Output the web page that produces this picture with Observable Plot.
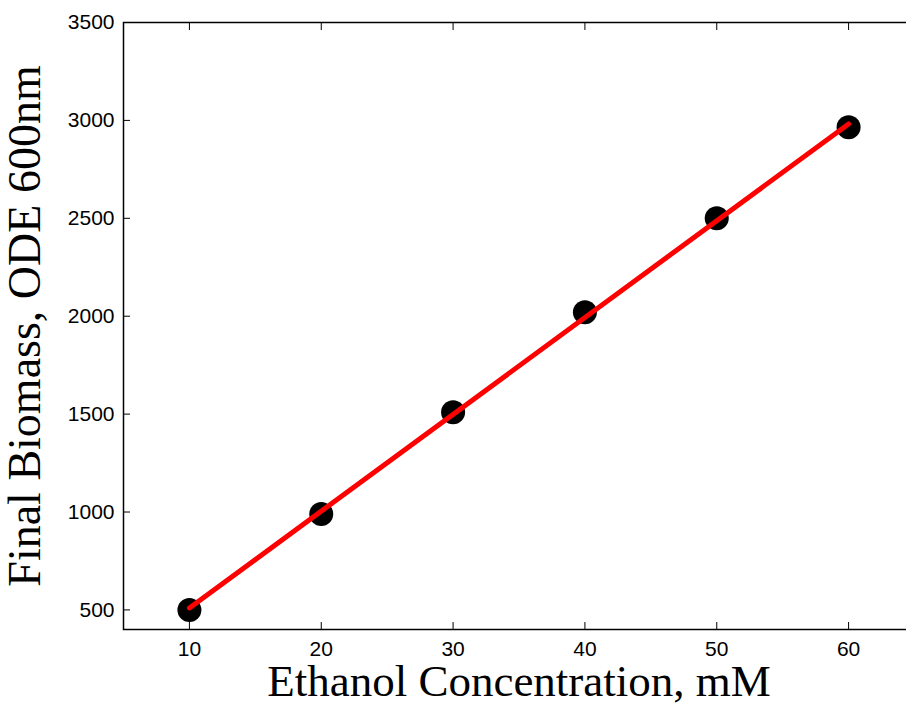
<!DOCTYPE html>
<html><head><meta charset="utf-8">
<script src="https://cdn.jsdelivr.net/npm/d3@7"></script>
<script src="https://cdn.jsdelivr.net/npm/@observablehq/plot@0.6"></script>
<style>html,body{margin:0;padding:0;background:#fff;overflow:hidden;width:906px;height:705px}
#chart svg{max-width:none !important}
#chart g[aria-label$="tick label"], #chart g[aria-label$="tick label"] text{font-size:21px !important}</style>
</head><body><div id="chart"></div>
<script>
const ethanol = [10, 20, 30, 40, 50, 60];
const biomass = [500, 990, 1510, 2020, 2500, 2965];
const fitX = [10, 60];
const fitY = [510, 2982];
const xTicks = [10, 20, 30, 40, 50, 60];
const yTicks = [500, 1000, 1500, 2000, 2500, 3000, 3500];
const xLabel = "Ethanol Concentration, mM";
const yLabel = "Final Biomass, ODE 600nm";

const pts = ethanol.map((x, i) => ({x, y: biomass[i]}));
const fit = fitX.map((x, i) => ({x, y: fitY[i]}));
const tickFont = "'Liberation Sans', Arial, Helvetica, sans-serif";
const serif = "'Liberation Serif', 'DejaVu Serif', serif";

const chart = Plot.plot({
  width: 920, height: 705,
  marginLeft: 123, marginRight: 6, marginTop: 22, marginBottom: 76,
  style: {fontFamily: tickFont, fontSize: "21px", background: "#fff", color: "#000", maxWidth: "none"},
  x: {domain: [5, 65]},
  y: {domain: [400, 3500]},
  marks: [
    Plot.axisX(xTicks, {anchor: "bottom", tickSize: -7, tickPadding: 19, label: null, fontSize: 21, stroke: "#000"}),
    Plot.axisX(xTicks, {anchor: "top", tickSize: -7, tickFormat: () => "", label: null}),
    Plot.axisY(yTicks, {anchor: "left", tickSize: -7, tickPadding: 16, label: null, tickFormat: d => String(d), fontSize: 21}),
    Plot.axisY(yTicks, {anchor: "right", tickSize: -7, tickFormat: () => "", label: null}),
    Plot.frame({stroke: "#000", strokeWidth: 1.5}),
    Plot.dot(pts, {x: "x", y: "y", r: 12, fill: "#000", stroke: "none"}),
    Plot.line(fit, {x: "x", y: "y", stroke: "#ff0000", strokeWidth: 5}),
    Plot.text([xLabel], {frameAnchor: "bottom", dy: 66, fontSize: 45, fontFamily: serif, fill: "#000"}),
    Plot.text([yLabel], {frameAnchor: "left", textAnchor: "middle", rotate: -90, dx: -98, fontSize: 46, fontFamily: serif, fill: "#000"})
  ]
});
document.getElementById("chart").appendChild(chart);
</script></body></html>
